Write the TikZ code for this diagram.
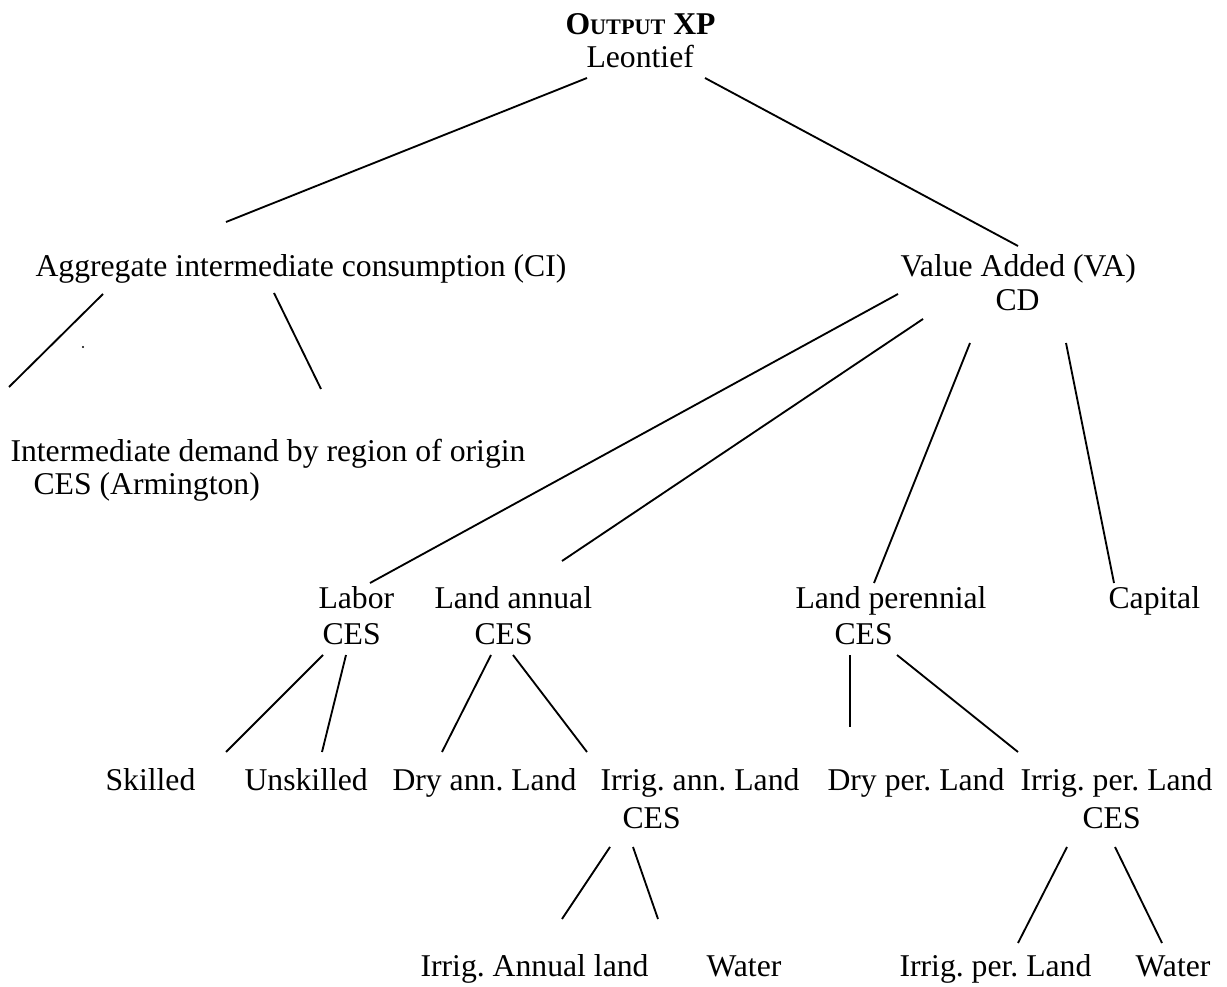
\documentclass[tikz,border=0pt]{standalone}
\usepackage{fontspec}
\setmainfont{Liberation Serif}
\usepackage{tikz}
\frenchspacing
\tikzset{
    lbl/.style={
        anchor=base west,
        inner sep=0pt,
        font=\fontsize{12}{14}\selectfont
    },
    branch/.style={draw=black, line width=0.7pt}
}

\begin{document}
\begin{tikzpicture}[x=0.0133cm, y=-0.0133cm]
\useasboundingbox (0,0) rectangle (1227,987);

% Top
\node[lbl] (n_output) at (565,35) {\textbf{O{\fontsize{8.4}{10}\selectfont UTPUT} XP}};
\node[lbl] (n_leontief) at (586,68) {Leontief};

% Second level
\node[lbl] (n_ci) at (35,277) {Aggregate intermediate consumption (CI)};
\node[lbl] (n_va) at (900,277) {Value Added (VA)};
\node[lbl] (n_cd) at (995,311) {CD};

% Armington
\node[lbl] (n_inter) at (10,462) {Intermediate demand by region of origin};
\node[lbl] (n_arm) at (33,494) {CES (Armington)};

% Factors
\node[lbl] (n_labor) at (318,608) {Labor};
\node[lbl] (n_labor_ces) at (322,644) {CES};
\node[lbl] (n_lann) at (434,608) {Land annual};
\node[lbl] (n_lann_ces) at (474,644) {CES};
\node[lbl] (n_lper) at (795,608) {Land perennial};
\node[lbl] (n_lper_ces) at (834,644) {CES};
\node[lbl] (n_capital) at (1108,608) {Capital};

% Fourth level
\node[lbl] (n_skilled) at (105,790) {Skilled};
\node[lbl] (n_unskilled) at (244,790) {Unskilled};
\node[lbl] (n_dryann) at (392,790) {Dry ann. Land};
\node[lbl] (n_irrann) at (600,790) {Irrig. ann. Land};
\node[lbl] (n_irrann_ces) at (622,828) {CES};
\node[lbl] (n_dryper) at (827,790) {Dry per. Land};
\node[lbl] (n_irrper) at (1020,790) {Irrig. per. Land};
\node[lbl] (n_irrper_ces) at (1082,828) {CES};

% Bottom
\node[lbl] (n_irrannland) at (420,976) {Irrig. Annual land};
\node[lbl] (n_water_a) at (706,976) {Water};
\node[lbl] (n_irrperland) at (899,976) {Irrig. per. Land};
\node[lbl] (n_water_p) at (1135,976) {Water};

% Line ends
\coordinate (leo_l) at (587,78);
\coordinate (leo_r) at (705,78);
\coordinate (ci_t) at (226,222);
\coordinate (va_t) at (1018,246);
\coordinate (ci_l) at (103,294);
\coordinate (ci_r) at (274,293);
\coordinate (arm_l) at (9,387);
\coordinate (arm_r) at (321,389);
\coordinate (va_1) at (898,294);
\coordinate (va_2) at (923,319);
\coordinate (va_3) at (970,343);
\coordinate (va_4) at (1066,343);
\coordinate (labor_t) at (370,583);
\coordinate (lann_t) at (562,561);
\coordinate (lper_t) at (874,583);
\coordinate (capital_t) at (1114,583);
\coordinate (labor_l) at (323,655);
\coordinate (labor_r) at (346,655);
\coordinate (skilled_t) at (226,752);
\coordinate (unskilled_t) at (322,752);
\coordinate (lann_l) at (491,655);
\coordinate (lann_r) at (513,655);
\coordinate (dryann_t) at (442,752);
\coordinate (irrann_t) at (587,752);
\coordinate (lper_l) at (850,655);
\coordinate (lper_r) at (897,655);
\coordinate (dryper_t) at (850,727);
\coordinate (irrper_t) at (1018,752);
\coordinate (irrann_l) at (610,847);
\coordinate (irrann_r) at (633,847);
\coordinate (irrannland_t) at (562,919);
\coordinate (water_a_t) at (658,919);
\coordinate (irrper_l) at (1067,847);
\coordinate (irrper_r) at (1115,847);
\coordinate (irrperland_t) at (1018,943);
\coordinate (water_p_t) at (1162,943);

% Branches
\draw[branch] (leo_l) -- (ci_t);
\draw[branch] (leo_r) -- (va_t);
\draw[branch] (ci_l) -- (arm_l);
\draw[branch] (ci_r) -- (arm_r);
\draw[branch] (va_1) -- (labor_t);
\draw[branch] (va_2) -- (lann_t);
\draw[branch] (va_3) -- (lper_t);
\draw[branch] (va_4) -- (capital_t);
\draw[branch] (labor_l) -- (skilled_t);
\draw[branch] (labor_r) -- (unskilled_t);
\draw[branch] (lann_l) -- (dryann_t);
\draw[branch] (lann_r) -- (irrann_t);
\draw[branch] (lper_l) -- (dryper_t);
\draw[branch] (lper_r) -- (irrper_t);
\draw[branch] (irrann_l) -- (irrannland_t);
\draw[branch] (irrann_r) -- (water_a_t);
\draw[branch] (irrper_l) -- (irrperland_t);
\draw[branch] (irrper_r) -- (water_p_t);

% stray dot
\fill (83,347) circle[radius=1.2];

\end{tikzpicture}
\end{document}
